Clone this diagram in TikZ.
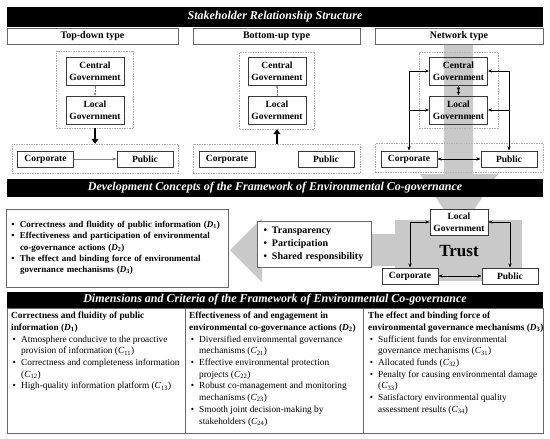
\documentclass[tikz,border=0pt]{standalone}
\usepackage{fontspec}
\setmainfont{Liberation Serif}
\usetikzlibrary{arrows.meta}
\definecolor{bandgray}{HTML}{C9C9C9}
\definecolor{boxline}{HTML}{3A3A3A}
\newcommand{\bul}{\makebox[10pt][l]{\,\textbullet}}
\newcommand{\ind}{\hspace*{10pt}}
\newcommand{\Dsub}[1]{(\textit{D}\textsubscript{#1})}
\newcommand{\Csub}[1]{(\textit{C}\textsubscript{#1})}
\tikzset{
  titlebar/.style={fill=black,text=white,font=\fontsize{12}{14}\selectfont\bfseries\itshape,
    minimum width=536pt,inner sep=0pt},
  headbox/.style={draw=gray!80!black,line width=1pt,fill=white,
    font=\fontsize{10}{12}\selectfont\bfseries,minimum height=16pt,inner sep=0pt},
  govbox/.style={draw=boxline,line width=1pt,font=\fontsize{9.5}{12}\selectfont\bfseries,
    align=center,minimum width=58pt,minimum height=28pt,inner sep=0pt},
  partbox/.style={draw=boxline,line width=1pt,fill=white,font=\fontsize{9.5}{12}\selectfont\bfseries,
    minimum width=56pt,minimum height=16pt,inner sep=0pt},
  dashbox/.style={draw=gray!60,dash pattern=on 1.5pt off 1pt,inner sep=0pt},
  listbox/.style={draw=gray!80!black,line width=1pt,fill=white,align=left,inner ysep=0pt},
  cell/.style={align=left,anchor=north west,inner sep=0pt,font=\fontsize{9.3}{11.7}\selectfont},
  smallarrow/.style={gray,densely dotted,-{Stealth[length=2.5pt,width=2.5pt]}},
  bigarrow/.style={line width=2pt,-{Triangle[length=5pt,width=7pt]}},
}
\begin{document}
\begin{tikzpicture}[x=1pt,y=-1pt,>={Stealth[length=4pt,width=3pt]}]
\useasboundingbox (0,0) rectangle (550,439);
% grey band of the network type
\fill[bandgray] (444,44) -- (444,174) -- (420,174) -- (459,232) -- (498,174) -- (473,174) -- (473,44) -- cycle;

\node[titlebar,minimum height=20pt] (stake) at (275,17) {Stakeholder Relationship Structure};
\node[headbox,minimum width=171pt] (tdhead) at (92.5,36) {Top-down type};
\node[headbox,minimum width=167pt] (buhead) at (276.5,36) {Bottom-up type};
\node[headbox,minimum width=168pt] (nwhead) at (459,36) {Network type};

% top-down
\node[dashbox,minimum width=77pt,minimum height=77pt] (tdgov) at (95,89.5) {};
\node[govbox] (tdcen) at (95,71) {Central\\Government};
\node[govbox] (tdloc) at (95,110) {Local\\Government};
\node[dashbox,minimum width=166pt,minimum height=29pt] (tdlow) at (95,158.5) {};
\node[partbox] (tdcor) at (45.5,159) {Corporate};
\node[partbox] (tdpub) at (145,159) {Public};
\draw[smallarrow] (tdcen) -- (tdloc);
\draw[bigarrow] (tdgov.south) -- (tdgov.south |- tdlow.north);
\draw[->,gray] (tdcor) -- (tdpub);

% bottom-up
\node[dashbox,minimum width=75pt,minimum height=77pt] (bugov) at (277,90.5) {};
\node[govbox] (bucen) at (277,71) {Central\\Government};
\node[govbox] (buloc) at (277,110) {Local\\Government};
\node[dashbox,minimum width=167pt,minimum height=29pt] (bulow) at (276.5,158.5) {};
\node[partbox] (bucor) at (227,159) {Corporate};
\node[partbox] (bupub) at (326,159) {Public};
\draw[smallarrow] (buloc) -- (bucen);
\draw[bigarrow] (bugov.south |- bulow.north) -- (bugov.south);

% network
\node[dashbox,minimum width=79pt,minimum height=76pt] (nwgov) at (458.5,90) {};
\node[govbox] (nwcen) at (458.5,71) {Central\\Government};
\node[govbox] (nwloc) at (458.5,110) {Local\\Government};
\node[dashbox,minimum width=168pt,minimum height=29pt] (nwlow) at (459,158) {};
\node[partbox] (nwcor) at (409,159) {Corporate};
\node[partbox] (nwpub) at (509,159) {Public};
\draw[<->] (nwcen) -- (nwloc);
\draw[<->] (nwcor) -- (nwpub);
\draw[<->] (nwcor.north) |- (nwcen.west);
\draw[->] (nwcor.north |- nwloc.west) -- (nwloc.west);
\draw[<->] (nwpub.north) |- (nwcen.east);
\draw[->] (nwpub.north |- nwloc.east) -- (nwloc.east);

\node[titlebar,minimum height=18pt] (devel) at (275,188) {Development Concepts of the Framework of Environmental Co-governance};

% trust
\fill[bandgray] (395,220) rectangle (522,281);
\fill[bandgray] (397,234) -- (262,234) -- (262,218) -- (230,250) -- (262,282) -- (262,266) -- (397,266) -- cycle;
\node[listbox,minimum width=222pt,minimum height=78pt,text width=214pt,inner xsep=4pt,
  font=\fontsize{9}{11.3}\selectfont\bfseries] (dlist) at (117,248)
  {\bul Correctness and fluidity of public information \Dsub{1}\\
   \bul Effectiveness and participation of environmental\\
   \ind co-governance actions \Dsub{2}\\
   \bul The effect and binding force of environmental\\
   \ind governance mechanisms \Dsub{3}};
\node[listbox,minimum width=114pt,minimum height=46pt,text width=104pt,inner xsep=5pt,
  font=\fontsize{10}{13}\selectfont\bfseries] (tpsbox) at (314,244)
  {\bul Transparency\\ \bul Participation\\ \bul Shared responsibility};
\node[partbox,minimum width=58pt,minimum height=26pt,align=center] (tloc) at (459,222) {Local\\Government};
\node[partbox] (tcor) at (410,276) {Corporate};
\node[partbox] (tpub) at (510,276) {Public};
\node[font=\fontsize{17}{20}\selectfont\bfseries] (trust) at (459,251) {Trust};
\draw[<->] (tcor.north) |- (tloc.west);
\draw[<->] (tpub.north) |- (tloc.east);
\draw[<->] (tcor) -- (tpub);

% dimensions and criteria
\node[titlebar,minimum height=16pt] (dims) at (275,300) {Dimensions and Criteria of the Framework of Environmental Co-governance};
\draw[gray!80!black,line width=1pt] (7,308) rectangle (543,433);
\draw[gray!80!black,line width=1pt] (185,308) -- (185,433) (363,308) -- (363,433);
\node[cell] (dimone) at (11,312)
  {\textbf{Correctness and fluidity of public}\\
   \textbf{information \Dsub{1}}\\
   \bul Atmosphere conducive to the proactive\\
   \ind provision of information \Csub{11}\\
   \bul Correctness and completeness information\\
   \ind \Csub{12}\\
   \bul High-quality information platform \Csub{13}};
\node[cell] (dimtwo) at (189,312)
  {\textbf{Effectiveness of and engagement in}\\
   \textbf{environmental co-governance actions \Dsub{2}}\\
   \bul Diversified environmental governance\\
   \ind mechanisms \Csub{21}\\
   \bul Effective environmental protection\\
   \ind projects \Csub{22}\\
   \bul Robust co-management and monitoring\\
   \ind mechanisms \Csub{23}\\
   \bul Smooth joint decision-making by\\
   \ind stakeholders \Csub{24}};
\node[cell] (dimthree) at (368,312)
  {\textbf{The effect and binding force of}\\
   \textbf{environmental governance mechanisms \Dsub{3}}\\
   \bul Sufficient funds for environmental\\
   \ind governance mechanisms \Csub{31}\\
   \bul Allocated funds \Csub{32}\\
   \bul Penalty for causing environmental damage\\
   \ind \Csub{33}\\
   \bul Satisfactory environmental quality\\
   \ind assessment results \Csub{34}};
\end{tikzpicture}
\end{document}
